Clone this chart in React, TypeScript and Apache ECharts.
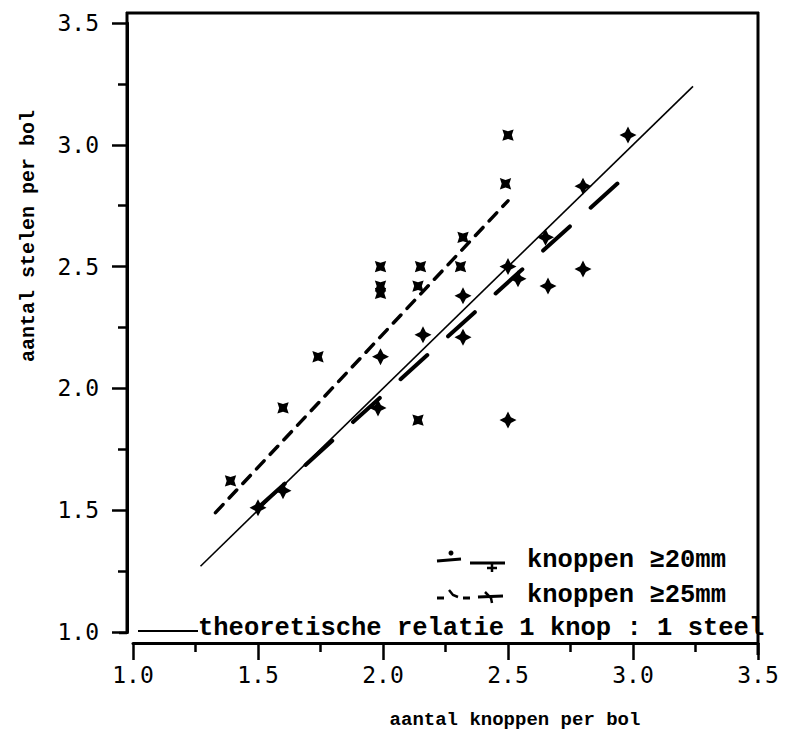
import React, { useEffect, useRef } from "react";
import * as echarts from "echarts";

const xTicks = [1.0, 1.5, 2.0, 2.5, 3.0, 3.5];
const yTicks = [1.0, 1.5, 2.0, 2.5, 3.0, 3.5];

// knoppen >= 20mm (plus / star markers)
const knop20: [number, number][] = [
  [1.5, 1.51],
  [1.6, 1.58],
  [1.98, 1.92],
  [1.99, 2.13],
  [2.16, 2.22],
  [2.32, 2.38],
  [2.32, 2.21],
  [2.5, 2.5],
  [2.54, 2.45],
  [2.5, 1.87],
  [2.65, 2.62],
  [2.66, 2.42],
  [2.8, 2.49],
  [2.8, 2.83],
  [2.98, 3.04],
];

// knoppen >= 25mm (x markers)
const knop25: [number, number][] = [
  [1.39, 1.62],
  [1.6, 1.92],
  [1.74, 2.13],
  [1.99, 2.5],
  [1.99, 2.42],
  [1.99, 2.39],
  [2.15, 2.5],
  [2.14, 2.42],
  [2.14, 1.87],
  [2.31, 2.5],
  [2.32, 2.62],
  [2.49, 2.84],
  [2.5, 3.04],
];

const fit20: [number, number][] = [
  [1.5, 1.51],
  [2.98, 2.88],
];
const fit25: [number, number][] = [
  [1.33, 1.49],
  [2.5, 2.77],
];
const theory: [number, number][] = [
  [1.27, 1.27],
  [3.24, 3.24],
];

const STAR =
  "path://M0,-10L3.4,-3.4L10,0L3.4,3.4L0,10L-3.4,3.4L-10,0L-3.4,-3.4Z";

const MONO = "'Liberation Mono', 'DejaVu Sans Mono', monospace";
const SANSMONO = "'DejaVu Sans Mono', 'Liberation Mono', monospace";

export default function App() {
  const ref = useRef<HTMLDivElement>(null);
  useEffect(() => {
    if (!ref.current) return;
    const chart = echarts.init(ref.current, null, { renderer: "svg" });
    const black = "#000";
    chart.setOption({
      animation: false,
      backgroundColor: "#fff",
      grid: { left: 133, right: 29, top: 23, bottom: 105, containLabel: false },
      xAxis: {
        type: "value",
        min: xTicks[0],
        max: xTicks[xTicks.length - 1],
        interval: 0.5,
        offset: 11,
        axisLine: { show: true, lineStyle: { color: black, width: 3 } },
        axisTick: { show: true, length: 17, lineStyle: { color: black, width: 2.5 } },
        minorTick: { show: true, splitNumber: 2, length: 9, lineStyle: { color: black, width: 2.5 } },
        splitLine: { show: false },
        minorSplitLine: { show: false },
        axisLabel: {
          color: black,
          fontFamily: SANSMONO,
          fontSize: 23,
          margin: 20,
          formatter: (v: number) => v.toFixed(1),
        },
      },
      yAxis: {
        type: "value",
        min: yTicks[0],
        max: yTicks[yTicks.length - 1],
        interval: 0.5,
        offset: 6,
        axisLine: { show: true, lineStyle: { color: black, width: 3 } },
        axisTick: { show: true, length: 15, lineStyle: { color: black, width: 2.5 } },
        minorTick: { show: true, splitNumber: 2, length: 9, lineStyle: { color: black, width: 2.5 } },
        splitLine: { show: false },
        minorSplitLine: { show: false },
        axisLabel: {
          color: black,
          fontFamily: SANSMONO,
          fontSize: 23,
          margin: 28,
          formatter: (v: number) => v.toFixed(1),
        },
      },
      series: [
        {
          type: "line",
          data: theory,
          symbol: "none",
          lineStyle: { color: black, width: 1.6, type: "solid" },
          z: 3,
        },
        {
          type: "line",
          data: fit20,
          symbol: "none",
          lineStyle: { color: black, width: 4, type: [36, 28], cap: "round" },
          z: 3,
        },
        {
          type: "line",
          data: fit25,
          symbol: "none",
          lineStyle: { color: black, width: 3.5, type: [11, 9], cap: "round" },
          z: 3,
        },
        {
          type: "scatter",
          data: knop20,
          symbol: STAR,
          symbolSize: 17,
          itemStyle: { color: black, opacity: 1 },
          z: 4,
        },
        {
          type: "scatter",
          data: knop25,
          symbol: STAR,
          symbolSize: 16,
          symbolRotate: 45,
          itemStyle: { color: black, opacity: 1 },
          z: 4,
        },
      ],
      graphic: [
        // frame
        { type: "line", shape: { x1: 126, y1: 13, x2: 759, y2: 13 }, style: { stroke: black, lineWidth: 3 } },
        { type: "line", shape: { x1: 758, y1: 12, x2: 758, y2: 655 }, style: { stroke: black, lineWidth: 3 } },
        { type: "line", shape: { x1: 127, y1: 12, x2: 127, y2: 634 }, style: { stroke: black, lineWidth: 3 } },
        { type: "line", shape: { x1: 119, y1: 633, x2: 127, y2: 633 }, style: { stroke: black, lineWidth: 2.5 } },
        // axis names
        {
          type: "text",
          x: 28,
          y: 236,
          rotation: Math.PI / 2,
          style: {
            text: "aantal stelen per bol",
            font: `bold 20px ${MONO}`,
            fill: black,
            align: "center",
            verticalAlign: "middle",
          },
        },
        {
          type: "text",
          x: 515,
          y: 720,
          style: {
            text: "aantal knoppen per bol",
            font: `bold 19px ${MONO}`,
            fill: black,
            align: "center",
            verticalAlign: "middle",
          },
        },
        // legend line 1
        { type: "line", shape: { x1: 437, y1: 561, x2: 461, y2: 559 }, style: { stroke: black, lineWidth: 3 } },
        { type: "circle", shape: { cx: 451, cy: 553, r: 2.5 }, style: { fill: black } },
        { type: "line", shape: { x1: 470, y1: 563, x2: 505, y2: 563 }, style: { stroke: black, lineWidth: 3 } },
        { type: "line", shape: { x1: 492, y1: 563, x2: 492, y2: 572 }, style: { stroke: black, lineWidth: 2.5 } },
        { type: "line", shape: { x1: 487, y1: 568, x2: 497, y2: 568 }, style: { stroke: black, lineWidth: 2.5 } },
        {
          type: "text",
          x: 527,
          y: 560,
          style: {
            text: "knoppen ≥20mm",
            font: `bold 25.5px ${MONO}`,
            fill: black,
            align: "left",
            verticalAlign: "middle",
          },
        },
        // legend line 2
        { type: "line", shape: { x1: 437, y1: 598, x2: 444, y2: 598 }, style: { stroke: black, lineWidth: 3 } },
        { type: "polyline", shape: { points: [[449, 590], [453, 595], [458, 597]] }, style: { stroke: black, lineWidth: 2.5, fill: "none" } },
        { type: "line", shape: { x1: 463, y1: 598, x2: 470, y2: 598 }, style: { stroke: black, lineWidth: 3 } },
        { type: "line", shape: { x1: 478, y1: 597, x2: 503, y2: 596 }, style: { stroke: black, lineWidth: 3 } },
        { type: "polyline", shape: { points: [[485, 592], [491, 598], [492, 603]] }, style: { stroke: black, lineWidth: 2.5, fill: "none" } },
        {
          type: "text",
          x: 527,
          y: 595,
          style: {
            text: "knoppen ≥25mm",
            font: `bold 25.5px ${MONO}`,
            fill: black,
            align: "left",
            verticalAlign: "middle",
          },
        },
        // legend line 3
        { type: "line", shape: { x1: 138, y1: 631, x2: 198, y2: 631 }, style: { stroke: black, lineWidth: 2 } },
        {
          type: "text",
          x: 198,
          y: 628,
          style: {
            text: "theoretische relatie 1 knop : 1 steel",
            font: `bold 25.5px ${MONO}`,
            fill: black,
            align: "left",
            verticalAlign: "middle",
          },
        },
      ],
    });
    return () => chart.dispose();
  }, []);
  return (
    <div
      ref={ref}
      style={{ position: "fixed", left: 0, top: 0, width: 787, height: 737 }}
    />
  );
}
